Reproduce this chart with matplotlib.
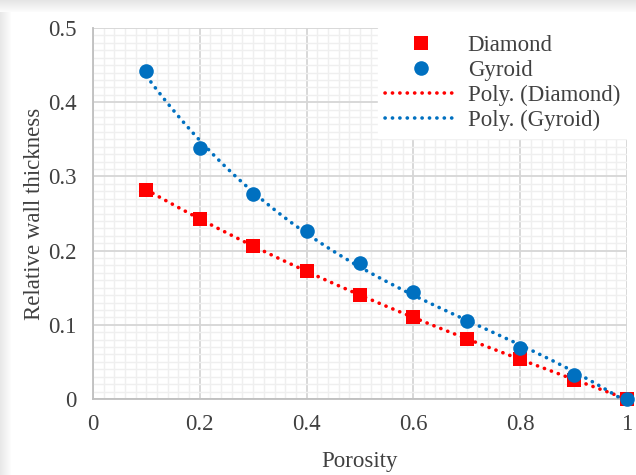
import numpy as np
import matplotlib
matplotlib.use('Agg')
import matplotlib.pyplot as plt
from matplotlib.ticker import MultipleLocator

# data
porosity = [0.1, 0.2, 0.3, 0.4, 0.5, 0.6, 0.7, 0.8, 0.9, 1.0]
diamond = [0.282, 0.243, 0.206, 0.172, 0.140, 0.110, 0.081, 0.054, 0.026, 0.0]
gyroid = [0.442, 0.338, 0.276, 0.226, 0.183, 0.144, 0.105, 0.069, 0.032, 0.0]
x_ticks = [0, 0.2, 0.4, 0.6, 0.8, 1]
x_labels = ['0', '0.2', '0.4', '0.6', '0.8', '1']
y_ticks = [0, 0.1, 0.2, 0.3, 0.4, 0.5]
y_labels = ['0', '0.1', '0.2', '0.3', '0.4', '0.5']

red = '#FF0000'
blue = '#0070C0'
fs = 16.5

plt.rcParams['font.family'] = ['Liberation Serif', 'DejaVu Serif']
plt.rcParams['font.size'] = fs

fig = plt.figure(figsize=(6.36, 4.75), dpi=100)

# shadow-ish gray band at top and left like the screenshot
bg = np.ones((475, 636, 3))
for i in range(12):
    v = 0.90 + 0.008 * i
    bg[i, :, :] = v
for j in range(11):
    v = 0.91 + 0.008 * j
    bg[12:, j, :] = np.minimum(bg[12:, j, :], v)
fig.figimage(bg, 0, 0, zorder=-10)

ax = fig.add_axes([0.1462, 0.16, 0.8396, 0.781])
ax.set_facecolor('white')
ax.set_xlim(0, 1)
ax.set_ylim(0, 0.5)

ax.xaxis.set_minor_locator(MultipleLocator(0.02))
ax.yaxis.set_minor_locator(MultipleLocator(0.01))
ax.grid(which='minor', color='#efefef', linewidth=1.0)
ax.grid(which='major', color='#d6d6d6', linewidth=1.3)
ax.set_axisbelow(True)

for s in ['top', 'right']:
    ax.spines[s].set_visible(False)
for s in ['left', 'bottom']:
    ax.spines[s].set_color('#bfbfbf')
    ax.spines[s].set_linewidth(1.3)

ax.set_xticks(x_ticks)
ax.set_xticklabels(x_labels)
ax.set_yticks(y_ticks)
ax.set_yticklabels(y_labels)
ax.tick_params(which='both', length=0, colors='#404040', labelsize=fs)
ax.tick_params(axis='x', pad=11)
ax.tick_params(axis='y', pad=12)

ax.set_xlabel('Porosity', color='#404040', labelpad=11)
ax.set_ylabel('Relative wall thickness', color='#404040', labelpad=2)

# polynomial trendlines (like Excel)
xs = np.linspace(0.1, 1.0, 200)
pd_ = np.polyfit(porosity, diamond, 3)
pg_ = np.polyfit(porosity, gyroid, 3)
dot = (0, (0.05, 2.0))
ax.plot(xs, np.polyval(pd_, xs), color=red, lw=2.6, ls=dot,
        dash_capstyle='round', label='Poly. (Diamond)', zorder=3, clip_on=False)
ax.plot(xs, np.polyval(pg_, xs), color=blue, lw=2.6, ls=dot,
        dash_capstyle='round', label='Poly. (Gyroid)', zorder=3, clip_on=False)

ax.plot(porosity, diamond, 's', color=red, ms=10, mew=0, label='Diamond',
        zorder=4, clip_on=False)
ax.plot(porosity, gyroid, 'o', color=blue, ms=10.5, mew=0, label='Gyroid',
        zorder=5, clip_on=False)

h, l = ax.get_legend_handles_labels()
order = [2, 3, 0, 1]
leg = ax.legend([h[i] for i in order], [l[i] for i in order], loc='upper right',
                frameon=True, fancybox=False, framealpha=1, edgecolor='white',
                borderaxespad=0.0, handlelength=3.1, handletextpad=0.5,
                labelspacing=0.17, fontsize=fs, borderpad=0.3)
for t in leg.get_texts():
    t.set_color('#404040')

fig.savefig('out.png', dpi=100)
